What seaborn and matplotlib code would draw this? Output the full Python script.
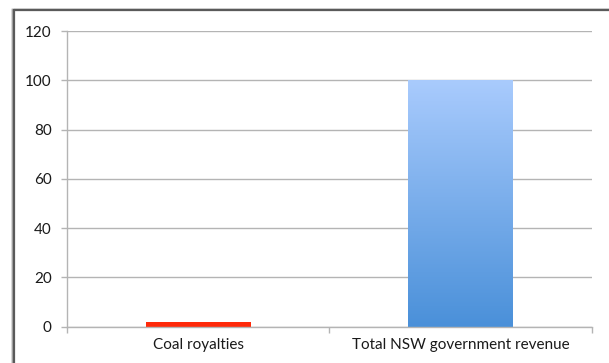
import numpy as np
import pandas as pd
import matplotlib
matplotlib.use("Agg")
import matplotlib.pyplot as plt
from matplotlib.lines import Line2D
import seaborn as sns

categories = ["Coal royalties", "Total NSW government revenue"]
values = [2, 100]
yticks = [0, 20, 40, 60, 80, 100, 120]

sns.set_theme(style="white")
plt.rcParams["font.family"] = ["Lato", "DejaVu Sans"]

df = pd.DataFrame({"category": categories, "value": values})

fig = plt.figure(figsize=(6.09, 3.63), dpi=100)
ax = fig.add_axes([0.110, 0.100, 0.862, 0.8146])

sns.barplot(data=df, x="category", y="value", ax=ax, width=0.4,
            color="#ff2a0a", saturation=1, edgecolor="none")

# vertical gradient fills clipped to each bar
grads = [("#ff2a0a", "#ff2a0a"), ("#a9cbfd", "#4a90d9")]
for patch, (top, bottom) in zip(ax.patches, grads):
    x0, y0 = patch.get_x(), patch.get_y()
    w, h = patch.get_width(), patch.get_height()
    c_top = np.array(matplotlib.colors.to_rgb(top))
    c_bot = np.array(matplotlib.colors.to_rgb(bottom))
    t = np.linspace(0, 1, 256)[:, None]
    img = (c_top * (1 - t) + c_bot * t)[:, None, :]
    im = ax.imshow(img, extent=[x0, x0 + w, y0, y0 + h], origin="upper",
                   aspect="auto", zorder=patch.get_zorder() + 0.1)
    im.set_clip_path(patch)

ax.set_xlim(-0.5, 1.5)
ax.set_ylim(0, 120)
ax.set_yticks(yticks)
ax.set_xlabel("")
ax.set_ylabel("")

grid_c = "#b4b4b4"
ax.yaxis.grid(True, color=grid_c, linewidth=1.0)
ax.set_axisbelow(True)
for side in ["top", "right"]:
    ax.spines[side].set_visible(False)
for side in ["left", "bottom"]:
    ax.spines[side].set_color(grid_c)
    ax.spines[side].set_linewidth(1.0)

ax.tick_params(axis="y", length=4, width=1, color=grid_c, pad=7,
               labelsize=11, labelcolor="#1a1a1a", left=True)
ax.tick_params(axis="x", which="major", length=0, pad=8,
               labelsize=11, labelcolor="#1a1a1a")
ax.set_xticks([-0.5, 0.5, 1.5], minor=True)
ax.tick_params(axis="x", which="minor", length=4, width=1, color=grid_c,
               bottom=True)

# chart frame with soft shadow along top and left edges
W, H = 609, 363
def fx(px):
    return px / W
def fy(py):
    return 1 - py / H
for off, col, lw in [(2.5, "#d8d8d8", 2.0), (1.3, "#a8a8a8", 1.5), (0, "#5a5a5a", 1.6)]:
    fig.add_artist(Line2D([fx(14 - off), fx(W)], [fy(10 - off * 0.3), fy(10 - off * 0.3)],
                          color=col, linewidth=lw, transform=fig.transFigure))
    fig.add_artist(Line2D([fx(14 - off), fx(14 - off)], [fy(10), fy(H)],
                          color=col, linewidth=lw, transform=fig.transFigure))

fig.savefig("out.png", dpi=100, facecolor="white")
